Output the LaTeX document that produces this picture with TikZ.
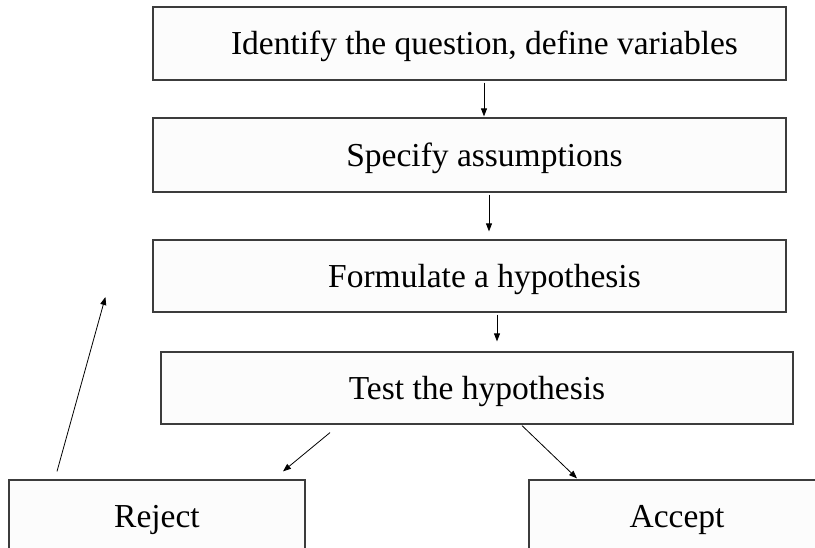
\documentclass[tikz,border=0pt]{standalone}
\usepackage{fontspec}
\setmainfont{Liberation Serif}
\usetikzlibrary{positioning,arrows.meta,calc}
\definecolor{boxline}{RGB}{60,60,60}
\definecolor{boxfill}{RGB}{252,252,252}
\tikzset{
  stepbox/.style={draw=boxline, line width=1.2pt, fill=boxfill, minimum height=72pt,
                  inner sep=0pt, text height=26pt, text depth=3pt, align=center,
                  font=\fontsize{33.5}{40}\selectfont},
  widebox/.style={stepbox, minimum width=633pt, execute at begin node={\hspace*{30pt}}},
  arrow/.style={-{Triangle[length=8pt,width=6pt]}, line width=0.8pt},
}
\begin{document}
\begin{tikzpicture}[x=1pt,y=-1pt]
  \useasboundingbox (0,0) rectangle (815,548);
  \node[widebox, minimum height=73pt] (quest)  at (469.5,43.5) {Identify the question, define variables};
  \node[widebox, minimum height=74pt] (assume) at (469.5,155)  {Specify assumptions};
  \node[widebox]                      (formul) at (469.5,276)  {Formulate a hypothesis};
  \node[stepbox, minimum width=632pt] (testh)  at (477,388)    {Test the hypothesis};
  \node[stepbox, minimum width=296pt] (reject) at (157,516)    {Reject};
  \node[stepbox, minimum width=296pt] (accept) at (677,516)    {Accept};
  \coordinate (back) at ($(formul.west)+(-47,21)$);

  \draw[arrow] ($(quest.south)+(14.5,2)$)   -- ($(assume.north)+(14.5,-1)$);
  \draw[arrow] ($(assume.south)+(19.5,2)$)  -- ($(formul.north)+(19.5,-8)$);
  \draw[arrow] ($(formul.south)+(27.5,2)$)  -- ($(testh.north)+(20,-10)$);
  \draw[arrow] ($(testh.south)+(-147,8)$)   -- ($(reject.north)+(126,-8)$);
  \draw[arrow] ($(testh.south)+(45,1)$)     -- ($(accept.north)+(-100,-1)$);
  \draw[arrow] ($(reject.north)+(-100,-8)$) -- (back);
\end{tikzpicture}
\end{document}
